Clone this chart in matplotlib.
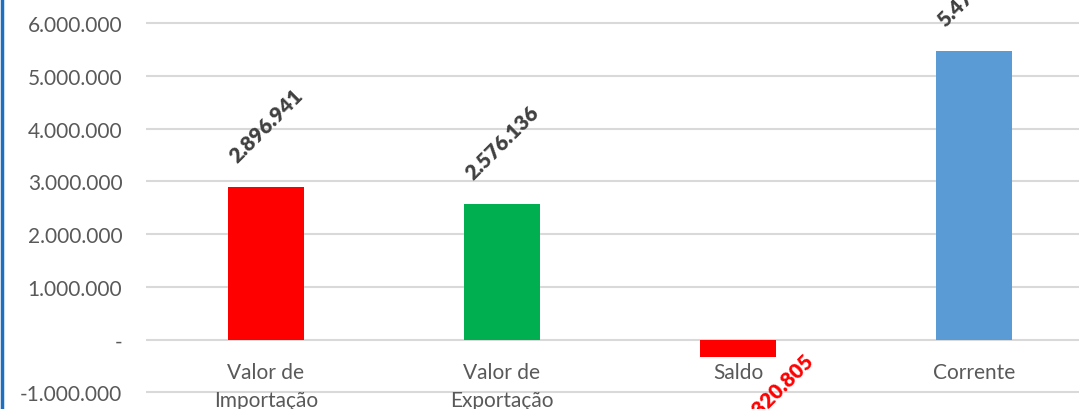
import matplotlib.pyplot as plt
from matplotlib.lines import Line2D

# --- DATA ---
categorias = ['Valor de\nImportação', 'Valor de\nExportação', 'Saldo', 'Corrente']
valores = [2896941, 2576136, -320805, 5473077]
cores = ['#FF0000', '#00B050', '#FF0000', '#5B9BD5']
yticks = [-1000000, 0, 1000000, 2000000, 3000000, 4000000, 5000000, 6000000]


def fmt(v):
    if v == 0:
        return '-'
    return f'{v:,.0f}'.replace(',', '.')


plt.rcParams['font.family'] = ['Lato', 'DejaVu Sans']

fig = plt.figure(figsize=(10.79, 4.10), dpi=100)
ax = fig.add_axes([146 / 1079, 0, (1079 - 146) / 1079, 1])

x = range(len(valores))
ax.bar(x, valores, width=0.32, color=cores, zorder=3)

ax.set_ylim(-1315000, 6456000)
ax.set_xlim(-0.508, 3.445)
ax.set_yticks(yticks)
ax.set_yticklabels([fmt(v) for v in yticks], fontsize=15, color='#595959')
ax.tick_params(axis='y', length=0, pad=17)
ax.set_xticks([])
ax.grid(axis='y', color='#D9D9D9', lw=1.5, zorder=0)
for s in ax.spines.values():
    s.set_visible(False)

# category labels sit just under the zero line
for i, c in enumerate(categorias):
    ax.annotate(c, (i, 0), xytext=(0, -22), textcoords='offset pixels',
                ha='center', va='top', fontsize=15, color='#595959',
                linespacing=1.55, annotation_clip=False)

# rotated value labels
for i, v in enumerate(valores):
    if v >= 0:
        off, cor = (0, 62), '#404040'
    else:
        off, cor = (42, -30), '#FF0000'
    ax.annotate(fmt(v), (i, v), xytext=off, textcoords='offset pixels',
                ha='center', va='center', rotation=45, fontsize=15,
                fontweight='heavy', color=cor, annotation_clip=False)

# blue frame edge on the left
fig.add_artist(Line2D([0.0015, 0.0015], [0, 1], color='#1F6FC0', lw=2.5,
                      transform=fig.transFigure))

plt.savefig('out.png', dpi=100)
